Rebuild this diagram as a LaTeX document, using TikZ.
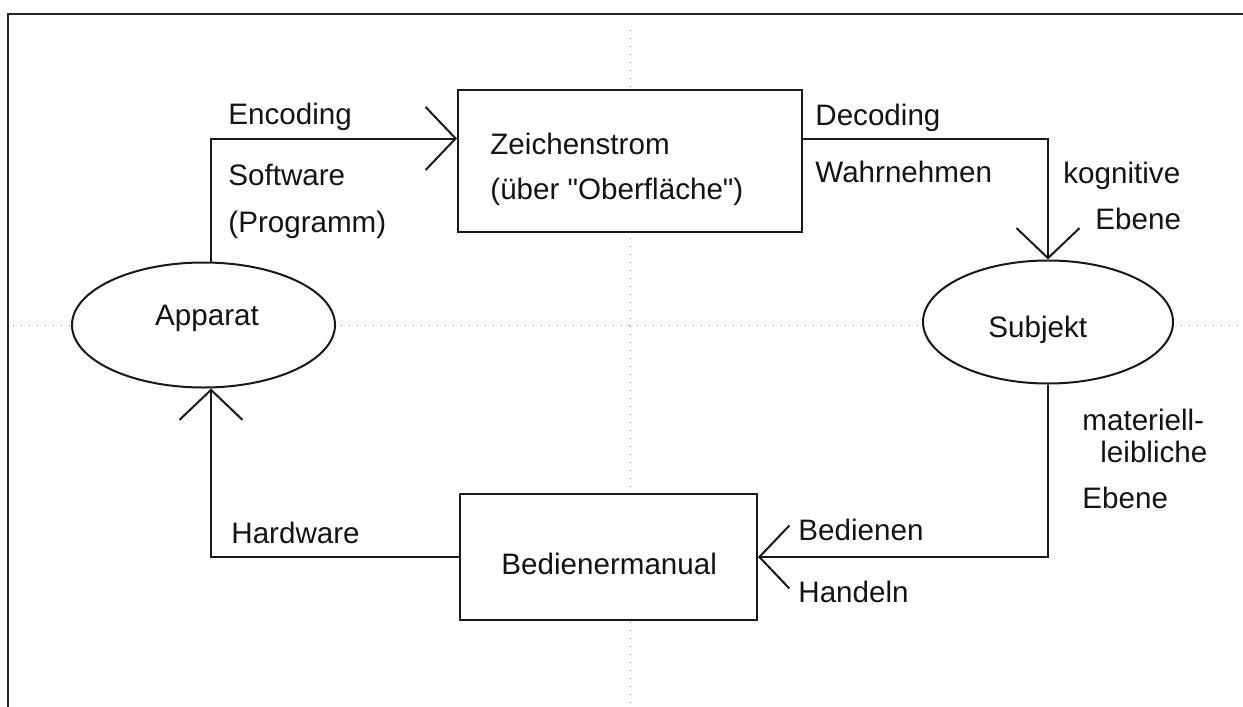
\documentclass[tikz,border=0pt]{standalone}
\usepackage{fontspec}
\setmainfont{Liberation Sans}[Ligatures=TeXOff]
\usetikzlibrary{shapes.geometric,arrows.meta}
\tikzset{
  framestyle/.style={line width=1pt, draw=black!85},
  guide/.style={draw=black!45, line width=0.5pt, dash pattern=on 0.6pt off 3.4pt},
  boxstyle/.style={draw=black!90, fill=white, line width=1pt, rectangle, inner sep=0pt},
  ellstyle/.style={draw=black!90, fill=white, line width=1pt, ellipse, inner sep=0pt},
  conn/.style={draw=black!90, line width=1pt, -{Straight Barb[length=15pt, width=31.5pt, line width=1pt]}},
  lbl/.style={inner sep=0pt, anchor=base west, font=\fontsize{14.8}{17}\selectfont, text=black!92}
}
\begin{document}
\begin{tikzpicture}[x=0.5pt, y=-0.5pt]
\useasboundingbox (0,0) rectangle (1243,707);
% frame
\draw[framestyle] (8,707) -- (8,14) -- (1243,14);
% dotted guide lines
\coordinate (gl) at (13,325);
\coordinate (gr) at (1243,325);
\coordinate (gt) at (630,30);
\coordinate (gb) at (630,707);
\draw[guide] (gl) -- (gr);
\draw[guide] (gt) -- (gb);
% nodes
\node[boxstyle, minimum width=172pt, minimum height=71pt] (zs) at (630,161) {};
\node[boxstyle, minimum width=148.5pt, minimum height=63pt] (bm) at (608.5,557) {};
\node[ellstyle, minimum width=131.5pt, minimum height=62.5pt] (app) at (203.5,325) {};
\node[ellstyle, minimum width=125pt, minimum height=61.5pt] (subj) at (1048,322) {};
% connectors
\draw[conn] ([xshift=3.75pt]app.north) |- ([yshift=11.25pt]zs.west);
\draw[conn] ([yshift=11.25pt]zs.east) -| (subj.north);
\draw[conn] (subj.south) |- (bm.east);
\draw[conn] (bm.west) -| ([xshift=3.75pt]app.south);
% texts
\node[lbl] (t1) at (228,124) {Encoding};
\node[lbl] (t2) at (228,185) {Software};
\node[lbl] (t3) at (228,232) {(Programm)};
\node[lbl] (t4) at (490,154) {Zeichenstrom};
\node[lbl] (t5) at (490,199) {(über \symbol{34}Oberfläche\symbol{34})};
\node[lbl] (t6) at (815,125) {Decoding};
\node[lbl] (t7) at (815,182) {Wahrnehmen};
\node[lbl] (t8) at (1063,183) {kognitive};
\node[lbl] (t9) at (1095,229) {Ebene};
\node[lbl, anchor=base] (t10) at (207,325) {Apparat};
\node[lbl] (t11) at (988,337) {Subjekt};
\node[lbl] (t12) at (1082,430) {materiell-};
\node[lbl] (t13) at (1100,462) {leibliche};
\node[lbl] (t14) at (1082,508) {Ebene};
\node[lbl] (t15) at (798,540) {Bedienen};
\node[lbl] (t16) at (798,602) {Handeln};
\node[lbl] (t17) at (501,574) {Bedienermanual};
\node[lbl] (t18) at (231,543) {Hardware};
\end{tikzpicture}
\end{document}
